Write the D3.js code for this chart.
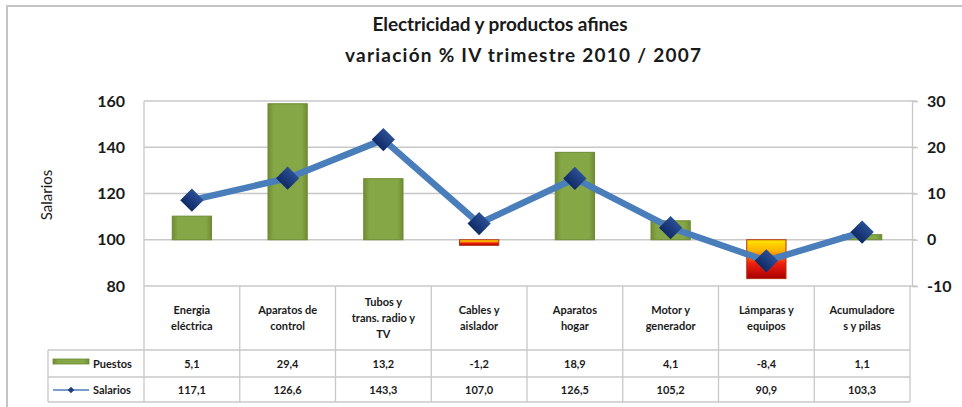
<!DOCTYPE html>
<html>
<head>
<meta charset="utf-8">
<script src="https://cdn.jsdelivr.net/npm/d3@7"></script>
<style>
  body { margin: 0; background: #fff; }
  text { font-family: Lato, "Open Sans", sans-serif; fill: #1a1a1a; }
</style>
</head>
<body>
<div id="chart"></div>
<script>
// data
const categoryLines = [
    ["Energia", "eléctrica"],
    ["Aparatos de", "control"],
    ["Tubos y", "trans. radio y", "TV"],
    ["Cables y", "aislador"],
    ["Aparatos", "hogar"],
    ["Motor y", "generador"],
    ["Lámparas y", "equipos"],
    ["Acumuladore", "s y pilas"]
];
const categories = categoryLines.map(d => d.join(" "));
const puestos = [5.1, 29.4, 13.2, -1.2, 18.9, 4.1, -8.4, 1.1];
const salarios = [117.1, 126.6, 143.3, 107.0, 126.5, 105.2, 90.9, 103.3];
const leftTicks = [80, 100, 120, 140, 160];
const rightTicks = [-10, 0, 10, 20, 30];
const titleLines = ["Electricidad y productos afines", "variación % IV trimestre 2010 / 2007"];

const W = 962, H = 407;
const margin = {top: 101, left: 144, right: 52, bottom: 121};
const plotW = W - margin.left - margin.right;   // 766
const plotH = H - margin.top - margin.bottom;   // 185

const es = d3.formatLocale({decimal: ",", thousands: ".", grouping: [3], currency: ["", "€"], minus: "-"});
const fmt = es.format(".1f");

const svg = d3.select("#chart").append("svg")
    .attr("width", W)
    .attr("height", H);

const defs = svg.append("defs");
let g1 = defs.append("linearGradient").attr("id", "green").attr("x1", 0).attr("x2", 1).attr("y1", 0).attr("y2", 0);
g1.append("stop").attr("offset", 0).attr("stop-color", "#6f8d35");
g1.append("stop").attr("offset", 0.15).attr("stop-color", "#86a746");
g1.append("stop").attr("offset", 0.85).attr("stop-color", "#86a746");
g1.append("stop").attr("offset", 1).attr("stop-color", "#6f8d35");
let g2 = defs.append("linearGradient").attr("id", "neg").attr("x1", 0).attr("x2", 0).attr("y1", 0).attr("y2", 1);
g2.append("stop").attr("offset", 0).attr("stop-color", "#ffe600");
g2.append("stop").attr("offset", 0.3).attr("stop-color", "#ffb000");
g2.append("stop").attr("offset", 0.6).attr("stop-color", "#f02010");
g2.append("stop").attr("offset", 1).attr("stop-color", "#a80000");
let g3 = defs.append("linearGradient").attr("id", "diam").attr("x1", 0).attr("x2", 0).attr("y1", 0).attr("y2", 1);
g3.append("stop").attr("offset", 0).attr("stop-color", "#2a4f95");
g3.append("stop").attr("offset", 1).attr("stop-color", "#102a66");

// outer frame
svg.append("rect")
    .attr("x", 7).attr("y", 6)
    .attr("width", W + 20).attr("height", H + 20)
    .attr("fill", "none")
    .attr("stroke", "#c4c4c4")
    .attr("stroke-width", 2);

// title
const titleX = [500, 523], titleLen = [255, 356];
svg.selectAll(".title")
    .data(titleLines)
    .enter().append("text")
    .attr("class", "title")
    .attr("x", (d, i) => titleX[i])
    .attr("y", (d, i) => 31 + i * 31)
    .attr("text-anchor", "middle")
    .attr("textLength", (d, i) => titleLen[i])
    .attr("lengthAdjust", "spacing")
    .style("font-size", "19px")
    .style("font-weight", "bold")
    .text(d => d);

// scales
const x = d3.scaleBand()
    .domain(categories)
    .range([margin.left, margin.left + plotW])
    .padding(0);
const yL = d3.scaleLinear().domain([80, 160]).range([margin.top + plotH, margin.top]);
const yR = d3.scaleLinear().domain([-10, 30]).range([margin.top + plotH, margin.top]);

// gridlines
svg.append("g")
    .selectAll("line")
    .data(leftTicks)
    .enter().append("line")
    .attr("x1", margin.left)
    .attr("x2", margin.left + plotW + 6)
    .attr("y1", d => yL(d))
    .attr("y2", d => yL(d))
    .attr("stroke", "#c8c8c8")
    .attr("stroke-width", 1.3);

// left axis line
svg.append("line")
    .attr("x1", margin.left).attr("x2", margin.left)
    .attr("y1", margin.top).attr("y2", H - 5)
    .attr("stroke", "#c8c8c8").attr("stroke-width", 1.3);

// right axis
const yAxisR = d3.axisRight(yR)
    .tickValues(rightTicks)
    .tickSize(6)
    .tickPadding(9)
    .tickFormat(d => d);
const rAxis = svg.append("g")
    .attr("transform", "translate(" + (margin.left + plotW + 2) + ",0)")
    .call(yAxisR);
rAxis.select(".domain").attr("stroke", "#c8c8c8").attr("stroke-width", 1.3);
rAxis.selectAll(".tick line").attr("stroke", "#c8c8c8").attr("stroke-width", 1.3);
rAxis.selectAll(".tick text")
    .style("font-family", "Lato, sans-serif")
    .style("font-size", "16px")
    .style("font-weight", "bold")
    .attr("fill", "#1a1a1a");

// left axis labels
const yAxisL = d3.axisLeft(yL)
    .tickValues(leftTicks)
    .tickSize(0)
    .tickPadding(19);
const lAxis = svg.append("g")
    .attr("transform", "translate(" + margin.left + ",0)")
    .call(yAxisL);
lAxis.select(".domain").remove();
lAxis.selectAll(".tick text")
    .style("font-family", "Lato, sans-serif")
    .style("font-size", "16px")
    .style("font-weight", "bold")
    .attr("fill", "#1a1a1a");

svg.append("text")
    .attr("transform", "translate(52,195) rotate(-90)")
    .attr("text-anchor", "middle")
    .style("font-size", "15px")
    .text("Salarios");

// bars (right axis)
const barW = x.bandwidth() * 0.41;
svg.append("g")
    .selectAll("rect")
    .data(puestos)
    .enter().append("rect")
    .attr("x", (d, i) => x(categories[i]) + (x.bandwidth() - barW) / 2)
    .attr("y", d => yR(Math.max(0, d)))
    .attr("width", barW)
    .attr("height", d => Math.abs(yR(d) - yR(0)))
    .attr("fill", d => d < 0 ? "url(#neg)" : "url(#green)")
    .attr("stroke", d => d < 0 ? "#b03010" : "#6b8a32")
    .attr("stroke-width", 1);

// line (left axis)
const line = d3.line()
    .x((d, i) => x(categories[i]) + x.bandwidth() / 2)
    .y(d => yL(d));
svg.append("path")
    .datum(salarios)
    .attr("d", line)
    .attr("fill", "none")
    .attr("stroke", "#4a7ebb")
    .attr("stroke-width", 6.5)
    .attr("stroke-linejoin", "round");

const diamond = d3.symbol().type(d3.symbolSquare).size(270);
svg.append("g")
    .selectAll("path")
    .data(salarios)
    .enter().append("path")
    .attr("d", diamond)
    .attr("transform", (d, i) => "translate(" + (x(categories[i]) + x.bandwidth() / 2) + "," + yL(d) + ") rotate(45)")
    .attr("fill", "url(#diam)");

// data table
const tTop = margin.top + plotH, r1 = 350, r2 = 377, tBot = 402, tLeft = 48;
const tbl = svg.append("g").attr("stroke", "#c8c8c8").attr("stroke-width", 1.3);
[r1, r2, tBot].forEach(yy => tbl.append("line").attr("x1", tLeft).attr("x2", margin.left + plotW).attr("y1", yy).attr("y2", yy));
tbl.append("line").attr("x1", tLeft).attr("x2", tLeft).attr("y1", r1).attr("y2", tBot);
categories.forEach((c, i) => {
    tbl.append("line").attr("x1", x(c) + x.bandwidth()).attr("x2", x(c) + x.bandwidth())
        .attr("y1", tTop).attr("y2", tBot);
});

// category labels
categoryLines.forEach((lines, i) => {
    const cx = x(categories[i]) + x.bandwidth() / 2;
    const y0 = 318 - (lines.length - 1) * 16 / 2;
    svg.append("text")
        .attr("text-anchor", "middle")
        .style("font-size", "11px")
        .style("font-weight", "bold")
        .selectAll("tspan")
        .data(lines)
        .enter().append("tspan")
        .attr("x", cx)
        .attr("y", (d, j) => y0 + j * 16 + 4)
        .text(d => d);
});

// row values
[[puestos, (r1 + r2) / 2], [salarios, (r2 + tBot) / 2]].forEach(([vals, yy]) => {
    svg.append("g")
        .selectAll("text")
        .data(vals)
        .enter().append("text")
        .attr("x", (d, i) => x(categories[i]) + x.bandwidth() / 2)
        .attr("y", yy + 4)
        .attr("text-anchor", "middle")
        .style("font-size", "11px")
        .style("font-weight", "bold")
        .text(d => fmt(d));
});

// legend keys in table
svg.append("rect")
    .attr("x", 53).attr("y", 359)
    .attr("width", 36).attr("height", 5)
    .attr("fill", "url(#green)")
    .attr("stroke", "#6b8a32").attr("stroke-width", 0.8);
svg.append("line")
    .attr("x1", 53).attr("x2", 89)
    .attr("y1", 390).attr("y2", 390)
    .attr("stroke", "#4a7ebb").attr("stroke-width", 1.5);
svg.append("path")
    .attr("d", d3.symbol().type(d3.symbolSquare).size(22))
    .attr("transform", "translate(71,390) rotate(45)")
    .attr("fill", "#1f3f80");
[["Puestos", (r1 + r2) / 2], ["Salarios", (r2 + tBot) / 2]].forEach(([t, yy]) => {
    svg.append("text")
        .attr("x", 93)
        .attr("y", yy + 4)
        .style("font-size", "11px")
        .style("font-weight", "bold")
        .text(t);
});
</script>
</body>
</html>
